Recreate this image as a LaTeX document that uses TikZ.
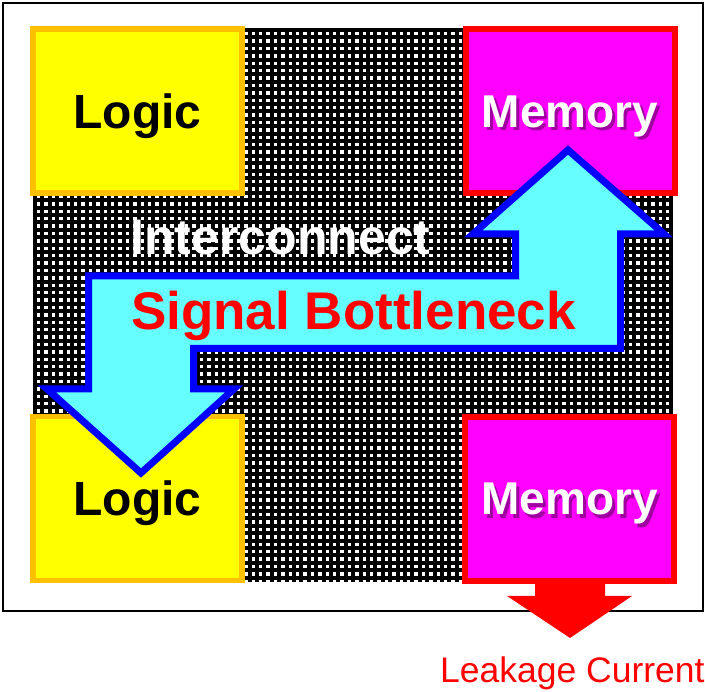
\documentclass[tikz,border=0pt]{standalone}
\usepackage{fontspec}
\setmainfont{Liberation Sans}
\definecolor{chipyellow}{HTML}{FFFF00}
\definecolor{chiporange}{HTML}{FFC000}
\definecolor{chipmagenta}{HTML}{FF00FF}
\definecolor{busfill}{HTML}{66FFFF}
\definecolor{memshade}{HTML}{7A007A}
\tikzset{
  block/.style={minimum width=209pt,minimum height=164pt,inner sep=0pt},
  logicbox/.style={block,fill=chipyellow,draw=chiporange,line width=5.5pt,
    font=\fontsize{48}{50}\selectfont\bfseries,text depth=0pt},
  membox/.style={block,fill=chipmagenta,draw=red,line width=6pt},
  memtext/.style={font=\fontsize{46}{48}\selectfont\bfseries,text depth=0pt,inner sep=0pt},
  wire/.style={line width=4pt},
}
\begin{document}
\begin{tikzpicture}[x=1pt,y=-1pt]
\useasboundingbox (0,0) rectangle (705,692);
% frame
\draw[line width=2pt] (3,3) rectangle (703,611);
% interconnect mesh
\scope
\clip (33,28) rectangle (673,582);
\foreach \i in {0,...,86}
  \draw[wire] (35+7.4*\i,28) -- (35+7.4*\i,582);
\foreach \j in {0,...,74}
  \draw[wire] (33,30+7.4*\j) -- (673,30+7.4*\j);
\endscope
% blocks
\node[logicbox] (logicTop) at (137.5,111) {Logic};
\node[logicbox] (logicBot) at (137.5,498.5) {Logic};
\node[membox] (memTop) at (570,111.5) {};
\node[membox] (memBot) at (569.5,499) {};
\foreach \m in {memTop,memBot} {
  \node[memtext,text=memshade,opacity=.7] at ([xshift=3pt,yshift=-3.5pt]\m.center) {Memory};
  \node[memtext,text=white] at (\m.center) {Memory};
}
% signal path
\draw[line width=7pt,draw=blue,fill=busfill,line join=miter]
  (568,150) -- (664,234) -- (620.5,234) -- (620.5,348.5) -- (193.5,348.5)
  -- (193.5,389) -- (234,389) -- (141,473) -- (47,389) -- (88.5,389)
  -- (88.5,276) -- (515.5,276) -- (515.5,234) -- (473,234) -- cycle;
\node[anchor=base,text=white,font=\fontsize{50}{52}\selectfont\bfseries] (wiring) at (280.5,255) {Interconnect};
\node[anchor=base,text=red,font=\fontsize{53}{55}\selectfont\bfseries] (bottleneck) at (353.5,330) {Signal Bottleneck};
% leakage
\fill[red] (535,584) -- (535,596) -- (507,596) -- (570,638) -- (632,596)
  -- (605,596) -- (605,584) -- cycle;
\node[anchor=base west,inner sep=0pt,text=red,font=\fontsize{35.5}{38}\selectfont] (leak) at (440,683) {Leakage Current};
\end{tikzpicture}
\end{document}
